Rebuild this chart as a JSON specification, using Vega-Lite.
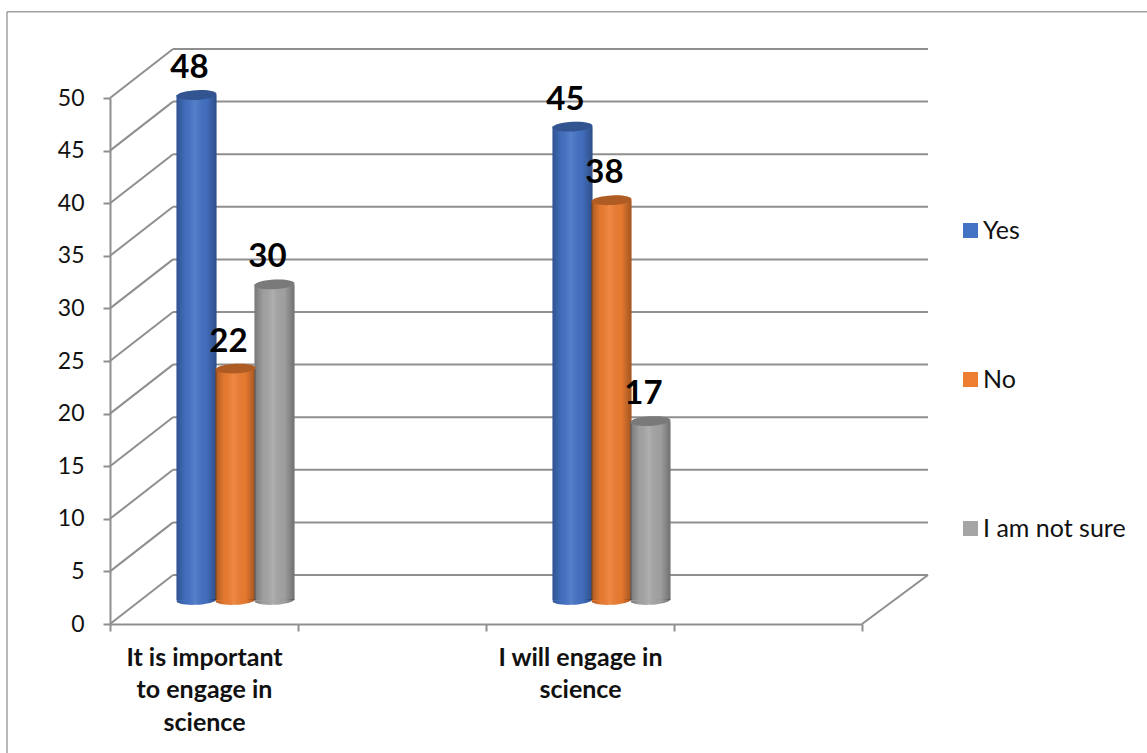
{
  "$schema": "https://vega.github.io/schema/vega-lite/v6.json",
  "autosize": "none",
  "padding": {"left": 110, "top": 98, "right": 285, "bottom": 129},
  "width": 752,
  "height": 526,
  "background": "white",
  "config": {
    "font": "Lato",
    "view": {"stroke": null},
    "axis": {"grid": false, "title": null, "domainColor": "#8f8f8f", "domainWidth": 2, "tickColor": "#8f8f8f", "tickWidth": 2, "tickSize": 7}
  },
  "datasets": {
    "readings": [
      {"question": "It is important to engage in science", "answer": "Yes", "value": 48},
      {"question": "It is important to engage in science", "answer": "No", "value": 22},
      {"question": "It is important to engage in science", "answer": "I am not sure", "value": 30},
      {"question": "I will engage in science", "answer": "Yes", "value": 45},
      {"question": "I will engage in science", "answer": "No", "value": 38},
      {"question": "I will engage in science", "answer": "I am not sure", "value": 17}
    ],
    "levels": [
      {"level": 0}, {"level": 5}, {"level": 10}, {"level": 15}, {"level": 20}, {"level": 25},
      {"level": 30}, {"level": 35}, {"level": 40}, {"level": 45}, {"level": 50}
    ]
  },
  "layer": [
    {
      "description": "Outer frame, top edge",
      "data": {"values": [{"edge": 58.2}]},
      "mark": {"type": "rule", "color": "#a0a0a0", "strokeWidth": 1.5, "xOffset": -197, "x2Offset": 379},
      "encoding": {
        "x": {"datum": "It is important to engage in science", "type": "nominal"},
        "x2": {"datum": " "},
        "y": {"field": "edge", "type": "quantitative"},
        "y2": {"field": "edge"}
      }
    },
    {
      "description": "Outer frame, left edge",
      "data": {"values": [{"top": 58.2, "bottom": -12.4}]},
      "mark": {"type": "rule", "color": "#a0a0a0", "strokeWidth": 1.5, "xOffset": -197},
      "encoding": {
        "x": {"datum": "It is important to engage in science", "type": "nominal"},
        "y": {"field": "top", "type": "quantitative"},
        "y2": {"field": "bottom"}
      }
    },
    {
      "description": "Gridlines on the back wall",
      "data": {"name": "levels"},
      "mark": {"type": "rule", "color": "#8f8f8f", "strokeWidth": 2, "xOffset": -31, "x2Offset": 160, "yOffset": -49, "y2Offset": -49},
      "encoding": {
        "x": {
          "datum": "It is important to engage in science",
          "type": "nominal",
          "scale": {
            "type": "band",
            "domain": ["It is important to engage in science", "  ", "I will engage in science", " "],
            "paddingInner": 0,
            "paddingOuter": 0
          },
          "axis": {
            "tickBand": "extent",
            "labelAngle": 0,
            "labelAlign": "center",
            "labelFontSize": 25,
            "labelFontWeight": "bold",
            "labelFont": "Lato",
            "labelColor": "#111111",
            "labelPadding": 14,
            "labelLineHeight": 32.5,
            "labelOverlap": false,
            "labelLimit": 0,
            "labelBaseline": "top",
            "labelExpr": "datum.label == 'It is important to engage in science' ? ['It is important', 'to engage in', 'science'] : datum.label == 'I will engage in science' ? ['I will engage in', 'science'] : ''"
          }
        },
        "x2": {"datum": " "},
        "y": {
          "field": "level",
          "type": "quantitative",
          "scale": {"domain": [0, 50], "nice": false},
          "axis": {"values": [0, 5, 10, 15, 20, 25, 30, 35, 40, 45, 50], "labelFontSize": 23, "labelColor": "#111111", "labelPadding": 19, "labelFont": "Lato"}
        },
        "y2": {"field": "level"}
      }
    },
    {
      "description": "Gridlines receding across the side wall",
      "data": {"name": "levels"},
      "mark": {"type": "rule", "color": "#8f8f8f", "strokeWidth": 2, "xOffset": -94, "x2Offset": -31, "y2Offset": -49},
      "encoding": {
        "x": {"datum": "It is important to engage in science", "type": "nominal"},
        "x2": {"datum": "It is important to engage in science"},
        "y": {"field": "level", "type": "quantitative"},
        "y2": {"field": "level"}
      }
    },
    {
      "description": "Right edge of the floor",
      "data": {"values": [{"level": 0}]},
      "mark": {"type": "rule", "color": "#8f8f8f", "strokeWidth": 2, "xOffset": 94, "x2Offset": 160, "y2Offset": -49},
      "encoding": {
        "x": {"datum": " ", "type": "nominal"},
        "x2": {"datum": " "},
        "y": {"field": "level", "type": "quantitative"},
        "y2": {"field": "level"}
      }
    },
    {
      "description": "Base of each cylinder",
      "data": {"name": "readings"},
      "mark": {"type": "point", "filled": true, "opacity": 1, "size": 1600, "yOffset": -24, "shape": "M-1,0.04 A1,0.24 -3 1 0 1,-0.04 A1,0.24 -3 1 0 -1,0.04 Z"},
      "encoding": {
        "x": {"field": "question", "type": "nominal"},
        "xOffset": {"field": "answer", "type": "nominal", "scale": {"domain": ["Yes", "No", "I am not sure"], "range": [67, 184], "paddingInner": 0, "paddingOuter": 0}},
        "y": {"datum": 0, "type": "quantitative"},
        "color": {
          "field": "answer",
          "type": "nominal",
          "scale": {"domain": ["Yes", "No", "I am not sure"], "range": ["#4472C4", "#ED7D31", "#A5A5A5"]},
          "legend": {
            "title": null,
            "orient": "none",
            "legendX": 848,
            "legendY": 120,
            "padding": 0,
            "symbolType": "square",
            "symbolSize": 225,
            "symbolOpacity": 1,
            "symbolStrokeWidth": 0,
            "labelFontSize": 25,
            "labelColor": "#111111",
            "labelFont": "Lato",
            "labelOffset": 0,
            "rowPadding": 123
          }
        }
      }
    },
    {
      "description": "Body of each cylinder",
      "data": {"name": "readings"},
      "mark": {"type": "bar", "orient": "vertical", "width": 40, "yOffset": -24, "y2Offset": -24},
      "encoding": {
        "x": {"field": "question", "type": "nominal"},
        "xOffset": {"field": "answer", "type": "nominal"},
        "y": {"field": "value", "type": "quantitative", "stack": null},
        "y2": {"datum": 0},
        "color": {"field": "answer", "type": "nominal"}
      }
    },
    {
      "description": "Rounded shading across each cylinder body",
      "data": {"name": "readings"},
      "mark": {
        "type": "bar",
        "orient": "vertical",
        "width": 40,
        "yOffset": -24,
        "y2Offset": -24,
        "fill": {
          "x1": 0, "y1": 0, "x2": 1, "y2": 0,
          "gradient": "linear",
          "stops": [
            {"offset": 0, "color": "rgba(0,0,0,0.28)"},
            {"offset": 0.22, "color": "rgba(0,0,0,0.04)"},
            {"offset": 0.45, "color": "rgba(255,255,255,0.1)"},
            {"offset": 0.75, "color": "rgba(0,0,0,0.04)"},
            {"offset": 1, "color": "rgba(0,0,0,0.32)"}
          ]
        }
      },
      "encoding": {
        "x": {"field": "question", "type": "nominal"},
        "xOffset": {"field": "answer", "type": "nominal"},
        "y": {"field": "value", "type": "quantitative", "stack": null},
        "y2": {"datum": 0}
      }
    },
    {
      "description": "Shaded lower rim of each cylinder",
      "data": {"name": "readings"},
      "mark": {
        "type": "point",
        "filled": true,
        "size": 1600,
        "yOffset": -24,
        "opacity": 1,
        "shape": "M-1,0.04 A1,0.24 -3 0 0 1,-0.04 Z",
        "fill": {
          "x1": 0, "y1": 0, "x2": 1, "y2": 0,
          "gradient": "linear",
          "stops": [
            {"offset": 0, "color": "rgba(0,0,0,0.28)"},
            {"offset": 0.22, "color": "rgba(0,0,0,0.04)"},
            {"offset": 0.45, "color": "rgba(255,255,255,0.1)"},
            {"offset": 0.75, "color": "rgba(0,0,0,0.04)"},
            {"offset": 1, "color": "rgba(0,0,0,0.32)"}
          ]
        }
      },
      "encoding": {
        "x": {"field": "question", "type": "nominal"},
        "xOffset": {"field": "answer", "type": "nominal"},
        "y": {"datum": 0, "type": "quantitative"}
      }
    },
    {
      "description": "Top face of each cylinder",
      "data": {"name": "readings"},
      "mark": {"type": "point", "filled": true, "opacity": 1, "size": 1600, "yOffset": -24, "shape": "M-1,0.04 A1,0.24 -3 1 0 1,-0.04 A1,0.24 -3 1 0 -1,0.04 Z"},
      "encoding": {
        "x": {"field": "question", "type": "nominal"},
        "xOffset": {"field": "answer", "type": "nominal"},
        "y": {"field": "value", "type": "quantitative"},
        "color": {"field": "answer", "type": "nominal"}
      }
    },
    {
      "description": "Darkening of the top face",
      "data": {"name": "readings"},
      "mark": {"type": "point", "filled": true, "color": "#000000", "opacity": 0.26, "size": 1600, "yOffset": -24, "shape": "M-1,0.04 A1,0.24 -3 1 0 1,-0.04 A1,0.24 -3 1 0 -1,0.04 Z"},
      "encoding": {
        "x": {"field": "question", "type": "nominal"},
        "xOffset": {"field": "answer", "type": "nominal"},
        "y": {"field": "value", "type": "quantitative"}
      }
    },
    {
      "description": "Value labels above the cylinders",
      "data": {"name": "readings"},
      "mark": {"type": "text", "font": "Lato", "fontWeight": "bold", "fontSize": 33, "color": "#000000", "align": "center", "baseline": "alphabetic", "dx": -7, "yOffset": -41},
      "encoding": {
        "x": {"field": "question", "type": "nominal"},
        "xOffset": {"field": "answer", "type": "nominal"},
        "y": {"field": "value", "type": "quantitative"},
        "text": {"field": "value", "type": "quantitative"}
      }
    }
  ]
}
